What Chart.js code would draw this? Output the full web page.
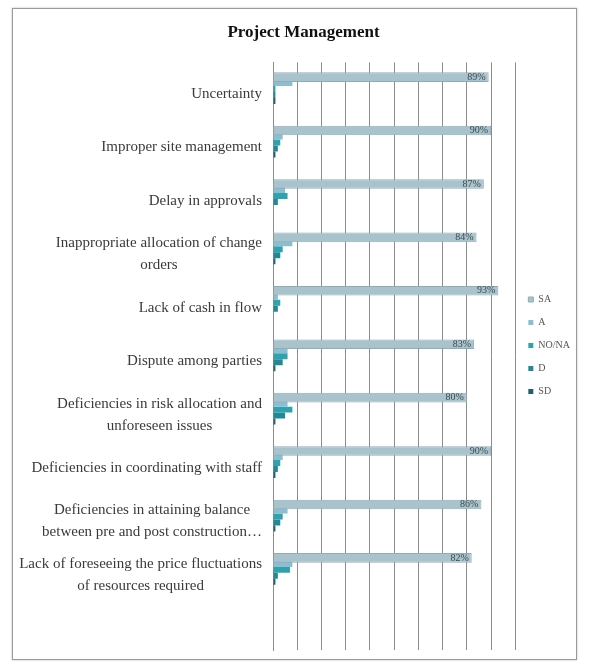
<!DOCTYPE html>
<html>
<head>
<meta charset="utf-8">
<script src="https://cdn.jsdelivr.net/npm/chart.js@4.4.1/dist/chart.umd.min.js"></script>
<style>
  html, body { margin: 0; padding: 0; background: #fff; }
  .frame {
    position: absolute;
    left: 12px;
    top: 8px;
    width: 563px;
    height: 650px;
    border: 1px solid #9a9a9a;
    box-shadow: 0 0 2px #bbb;
  }
  canvas { display: block; }
</style>
</head>
<body>
<div class="frame"><canvas id="myChart" width="563" height="650"></canvas></div>
<script>
"use strict";

// Data

const categories = [
  "Uncertainty",
  "Improper site management",
  "Delay in approvals",
  ["Inappropriate allocation of change", "orders"],
  "Lack of cash in flow",
  "Dispute among parties",
  ["Deficiencies in risk allocation and", "unforeseen issues"],
  "Deficiencies in coordinating with staff",
  ["Deficiencies in attaining balance", "between pre and post construction\u2026"],
  ["Lack of foreseeing the price fluctuations", "of resources required"],
  "",
];

const saValues = [89, 90, 87, 84, 93, 83, 80, 90, 86, 82];
const aValues = [8, 4, 5, 8, 2, 6, 6, 4, 6, 8];
const noValues = [1, 3, 6, 4, 3, 6, 8, 3, 4, 7];
const dValues = [1, 2, 2, 3, 2, 4, 5, 2, 3, 2];
const sdValues = [1, 1, 0, 1, 0, 1, 1, 1, 1, 1];

const seriesNames = ["SA", "A", "NO/NA", "D", "SD"];
const seriesColors = ["#a9c3cd", "#8dbdd0", "#2ea3ad", "#238896", "#22606e"];

const xTicks = { min: 0, max: 100, step: 10 };

// Category labels drawn right aligned, multi line centered

const labelPlugin = {
  id: "labelPlugin",
  afterDraw(chart) {
    const ctx = chart.ctx;
    const yScale = chart.scales.y;
    const rightEdge = yScale.right - 11;
    ctx.save();
    ctx.font = "15px 'Liberation Serif', 'Times New Roman', serif";
    ctx.fillStyle = "#3a3a3a";
    ctx.textAlign = "center";
    ctx.textBaseline = "middle";
    categories.forEach((cat, i) => {
      const lines = Array.isArray(cat) ? cat : [cat];
      const maxW = Math.max(...lines.map((l) => ctx.measureText(l).width));
      const cx = rightEdge - maxW / 2;
      const cy = yScale.getPixelForTick(i) + 5;
      const lh = 22;
      lines.forEach((l, j) => {
        ctx.fillText(l, cx, cy + (j - (lines.length - 1) / 2) * lh);
      });
    });
    ctx.restore();
  },
};

// Percent labels on SA bars

const valuePlugin = {
  id: "valuePlugin",
  afterDatasetsDraw(chart) {
    const ctx = chart.ctx;
    const meta = chart.getDatasetMeta(0);
    ctx.save();
    ctx.font = "10px 'Liberation Serif', 'Times New Roman', serif";
    ctx.fillStyle = "#3c4a50";
    ctx.textAlign = "right";
    ctx.textBaseline = "middle";
    meta.data.forEach((bar, i) => {
      ctx.fillText(saValues[i] + "%", bar.x - 3, bar.y);
    });
    ctx.restore();
  },
};

// Nudge legend down and title right a little

const boxShift = {
  id: "boxShift",
  afterLayout(chart) {
    chart.legend.top += 11;
    chart.legend.bottom += 11;
    chart.titleBlock.left += 14;
  },
};

const allValues = [saValues, aValues, noValues, dValues, sdValues];

const ctx = document.getElementById("myChart").getContext("2d");
const myChart = new Chart(ctx, {
  type: "bar",
  data: {
    labels: categories,
    datasets: seriesNames.map((name, i) => ({
      label: name,
      data: allValues[i],
      backgroundColor: seriesColors[i],
      borderColor: i === 0 ? "#8eadb9" : seriesColors[i],
      borderWidth: i === 0 ? 1 : 0,
      barPercentage: i === 0 ? 1.6 : 1.0,
      categoryPercentage: 0.56,
    })),
  },
  options: {
    indexAxis: "y",
    responsive: false,
    animation: false,
    layout: {
      padding: { top: 10, bottom: 9, left: 0, right: -4 },
    },
    plugins: {
      title: {
        display: true,
        text: "Project Management",
        color: "#111",
        font: { family: "'Liberation Serif', serif", size: 17, weight: "bold", lineHeight: 1.2 },
        padding: { top: 3, bottom: 20 },
      },
      legend: {
        position: "right",
        labels: {
          boxWidth: 5,
          boxHeight: 5,
          padding: 13,
          color: "#555",
          font: { family: "'Liberation Serif', serif", size: 10 },
        },
      },
      tooltip: { enabled: false },
    },
    scales: {
      x: {
        min: xTicks.min,
        max: xTicks.max,
        ticks: { display: false, stepSize: xTicks.step },
        grid: { color: "#8c8c8c", drawTicks: false },
        border: { display: false },
      },
      y: {
        ticks: { display: false },
        grid: { display: false },
        border: { color: "#8c8c8c" },
        afterFit(scale) {
          scale.width = 260;
        },
      },
    },
  },
  plugins: [labelPlugin, valuePlugin, boxShift],
});
</script>
</body>
</html>
